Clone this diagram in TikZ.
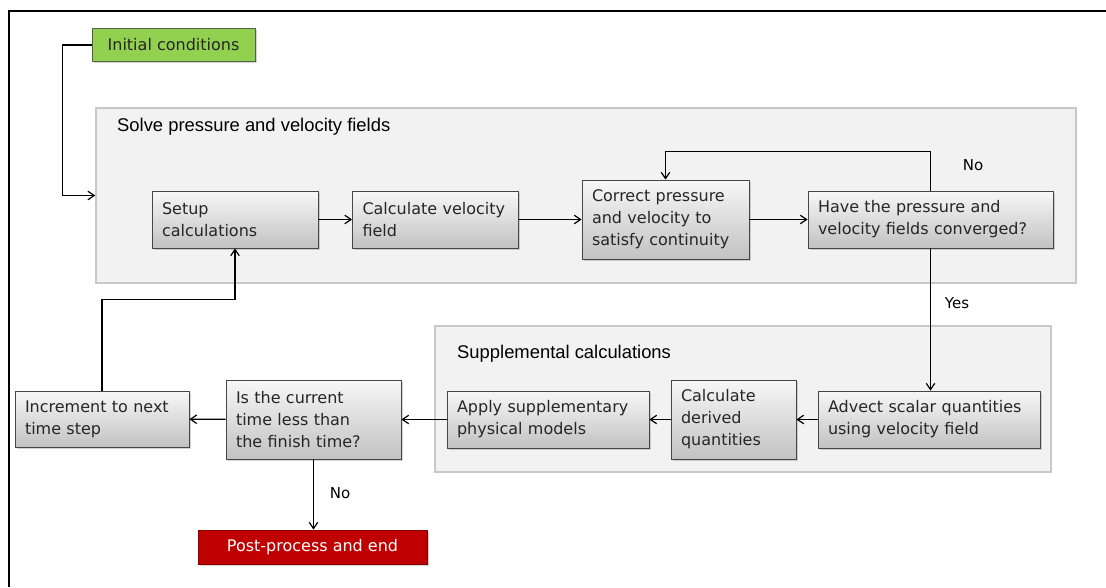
\documentclass[tikz,border=0pt]{standalone}
\usepackage{fontspec}
\setmainfont{DejaVu Sans}
\newfontfamily\titulofont{Liberation Sans}
\usepackage{tikz}
\usetikzlibrary{arrows.meta,shadows}

\definecolor{verde}{RGB}{146,208,80}
\definecolor{vermelho}{RGB}{192,0,0}
\definecolor{borda}{RGB}{70,70,70}
\definecolor{fundo}{RGB}{242,242,242}
\definecolor{fundoborda}{RGB}{200,200,200}

\begin{document}
\begin{tikzpicture}[x=1pt,y=-1pt,
  grupo/.style={draw=fundoborda,fill=fundo,line width=1.5pt,inner sep=0pt},
  etapa/.style={draw=borda,line width=0.8pt,top color=gray!6,bottom color=gray!48,
    align=left,inner xsep=10pt,inner ysep=0pt,text=black!85,
    font=\fontsize{16}{22}\selectfont,
    execute at begin node={\hyphenpenalty=10000},
    drop shadow={shadow xshift=1.5pt,shadow yshift=-1.5pt,opacity=.35}},
  titulo/.style={anchor=west,inner sep=0pt,font=\titulofont\fontsize{18.4}{20}\selectfont},
  rotulo/.style={inner sep=0pt,font=\fontsize{15}{17}\selectfont},
  seta/.style={-{Straight Barb[length=2.2mm,width=3mm]},line width=1.2pt}
]
\useasboundingbox (0,0) rectangle (1106,587);
% moldura
\draw[line width=2pt] (9,587) -- (9,11) -- (1106,11);

% grupos
\node[grupo,minimum width=980pt,minimum height=175pt] (solve) at (586,195.5) {};
\node[titulo] at (117,127) {Solve pressure and velocity fields};
\node[grupo,minimum width=616pt,minimum height=146pt] (supl) at (743,399) {};
\node[titulo] at (457,354) {Supplemental calculations};

% inicio e fim
\node[etapa,top color=verde,bottom color=verde,draw=borda!80!verde,align=center,
  minimum width=163pt,minimum height=33pt,font=\fontsize{16}{18}\selectfont] (inicio) at (173.5,45)
  {Initial conditions};
\node[etapa,top color=vermelho,bottom color=vermelho,draw=vermelho!70!black,align=center,
  text=white,minimum width=229pt,minimum height=34pt,font=\fontsize{16}{18}\selectfont] (fim) at (312.5,547)
  {Post-process and end};

% laco de pressao e velocidade
\node[etapa,minimum width=166pt,minimum height=57pt,text width=146pt] (setup) at (235,219.5)
  {Setup\\calculations};
\node[etapa,minimum width=166pt,minimum height=57pt,text width=146pt] (velocidade) at (435.5,219.5)
  {Calculate velocity\\field};
\node[etapa,minimum width=167pt,minimum height=79pt,text width=147pt] (corrige) at (665.5,219.5)
  {Correct pressure\\and velocity to\\satisfy continuity};
\node[etapa,minimum width=245pt,minimum height=57pt,text width=225pt] (converge) at (930.5,219.5)
  {Have the pressure and\\velocity fields converged?};

% calculos suplementares
\node[etapa,minimum width=222pt,minimum height=57pt,text width=202pt] (advecta) at (929,419.5)
  {Advect scalar quantities\\using velocity field};
\node[etapa,minimum width=125pt,minimum height=79pt,text width=105pt] (derivadas) at (733.5,419.5)
  {Calculate\\derived\\quantities};
\node[etapa,minimum width=202pt,minimum height=57pt,text width=182pt] (modelos) at (548,419.5)
  {Apply supplementary\\physical models};

% passo de tempo
\node[etapa,minimum width=175pt,minimum height=79pt,text width=155pt] (tempo) at (313.5,419.5)
  {Is the current\\time less than\\the finish time?};
\node[etapa,minimum width=174pt,minimum height=56pt,text width=154pt] (incremento) at (102,419)
  {Increment to next\\time step};

% conectores
\draw[seta] (inicio.west) -- ++(-29,0) |- (solve.west);
\draw[seta] (setup) -- (velocidade);
\draw[seta] (velocidade) -- (corrige);
\draw[seta] (corrige) -- (converge);
\draw[seta] (converge.north) -- ++(0,-39) -| (corrige.north);
\node[rotulo] (nao1) at (973,165) {No};
\draw[seta] (converge.south) -- (converge.south |- advecta.north);
\node[rotulo] (sim) at (957,303) {Yes};
\draw[seta] (advecta) -- (derivadas);
\draw[seta] (derivadas) -- (modelos);
\draw[seta] (modelos) -- (tempo);
\draw[seta] (tempo) -- (incremento);
\draw[seta] (incremento.north) -- ++(0,-91) -| (setup.south);
\draw[seta] (tempo.south) -- (tempo.south |- fim.north);
\node[rotulo] (nao2) at (340,493) {No};
\end{tikzpicture}
\end{document}
